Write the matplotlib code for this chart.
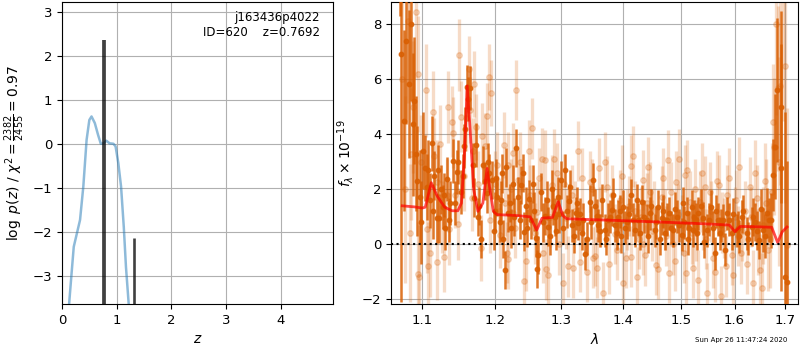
import matplotlib
matplotlib.use("Agg")
from matplotlib import pyplot as plt
from matplotlib.ticker import ScalarFormatter, NullFormatter
import numpy as np

# log p(z) curve
z_grid = [0.10, 0.13, 0.17, 0.215, 0.33, 0.39, 0.45, 0.50, 0.54, 0.60, 0.66, 0.71, 0.76,
          0.81, 0.87, 0.94, 0.98, 1.03, 1.08, 1.13, 1.17, 1.22, 1.26]
logpz = [-4.5, -3.63, -3.01, -2.33, -1.72, -0.96, 0.10, 0.55, 0.63, 0.48, 0.21, 0.01, 0.02,
         0.08, 0.02, 0.01, -0.05, -0.43, -0.96, -1.88, -2.79, -3.63, -4.4]
z_peaks = [0.765, 1.31]
peak_tops = [2.37, -2.13]
peak_widths = [2.7, 1.9]

# binned spectrum, beam A (dark points)
lam_bin = [1.0705, 1.0722, 1.0787, 1.0830, 1.0874, 1.0895, 1.0934, 1.0970, 1.1005, 1.1036,
           1.1080, 1.1105, 1.1125, 1.1160, 1.1192, 1.1227, 1.1255, 1.1281, 1.1310, 1.1335,
           1.1375, 1.1417, 1.1463, 1.1485, 1.1525, 1.1565, 1.1602, 1.1648, 1.1690, 1.1728,
           1.1764, 1.1798, 1.1835, 1.1884, 1.1920, 1.1955, 1.2000, 1.2036, 1.2070, 1.2108,
           1.2148, 1.2196, 1.2231, 1.2260, 1.2309, 1.2343, 1.2383, 1.2432, 1.2477, 1.2507,
           1.2558, 1.2603, 1.2643, 1.2679, 1.2745, 1.2795, 1.2847, 1.2898, 1.2940, 1.2986,
           1.3054, 1.3116, 1.3159, 1.3227, 1.3264, 1.3318, 1.3371, 1.3447, 1.3505, 1.3560,
           1.3620, 1.3695, 1.3750, 1.3806, 1.3860, 1.3915, 1.3960, 1.4000, 1.4060, 1.4129,
           1.4197, 1.4250, 1.4312, 1.4398, 1.4455, 1.4542, 1.4599, 1.4659, 1.4717, 1.4793,
           1.4865, 1.4936, 1.5015, 1.5060, 1.5106, 1.5150, 1.5196, 1.5226, 1.5270, 1.5317,
           1.5398, 1.5472, 1.5547, 1.5627, 1.5680, 1.5721, 1.5784, 1.5860, 1.5944, 1.6039,
           1.6090, 1.6136, 1.6233, 1.6331, 1.6396, 1.6480, 1.6560, 1.6639, 1.6707, 1.6760,
           1.6794, 1.6846, 1.6909, 1.6917, 1.6997, 1.7044]
flux_bin = [11.0, 6.92, 7.39, 5.83, 4.37, 5.22, 2.30, 1.73, 3.40, 2.76,
            2.70, 1.60, 3.67, 2.50, 0.94, 0.94, 2.00, 1.37, 0.60, 2.37,
            1.50, 3.03, 2.62, 2.98, 1.90, 3.57, 5.73, 5.67, 2.90, 3.60,
            1.00, 0.19, 2.88, 1.85, 2.60, 2.34, 1.20, 1.73, 0.80, 2.58,
            -0.93, 1.13, 0.58, 2.18, 3.51, 1.73, 2.16, 0.46, 0.60, 1.64,
            2.20, 0.24, -0.39, 1.91, 1.03, 0.64, 2.00, 1.00, 1.73, 2.34,
            2.70, 1.58, 0.70, 1.13, 0.77, 0.41, -0.35, 1.55, 2.34, 1.03,
            0.50, 0.52, 0.90, 1.25, 0.70, 1.00, 0.30, 1.37, 0.80, 1.79,
            0.52, 0.90, 1.55, 0.88, 1.13, 0.52, 1.37, 0.94, 0.40, 1.13,
            0.52, 1.00, 0.34, 0.80, 1.13, 0.60, 1.37, 0.52, 0.90, 1.13,
            0.94, 0.52, 1.37, -0.33, 0.90, 0.40, 0.88, 1.13, 0.40, 0.52,
            0.30, 1.00, 0.40, 0.64, 0.82, 0.15, 0.52, 1.13, 0.88, 2.52,
            3.55, 5.61, 5.00, 2.79, -1.18, -1.38]
err_bin = [2.7, 9.0, 3.0, 2.7, 2.6, 2.3, 2.0, 1.7, 1.4, 1.2,
           1.1, 1.0, 1.0, 0.9, 0.9, 0.9, 0.9, 0.8, 0.8, 0.8,
           0.8, 0.8, 0.8, 0.8, 0.8, 0.8, 0.8, 0.8, 0.8, 0.8,
           0.7, 0.7, 0.7, 0.7, 0.7, 0.7, 0.7, 0.7, 0.7, 0.7,
           0.7, 0.7, 0.7, 0.7, 0.7, 0.7, 0.7, 0.7, 0.7, 0.7,
           0.7, 0.7, 0.7, 0.7, 0.7, 0.7, 0.7, 0.7, 0.7, 0.7,
           0.6, 0.6, 0.6, 0.6, 0.6, 0.6, 0.6, 0.6, 0.6, 0.6,
           0.6, 0.6, 0.6, 0.6, 0.6, 0.6, 0.6, 0.6, 0.6, 0.6,
           0.6, 0.6, 0.6, 0.6, 0.6, 0.6, 0.6, 0.6, 0.6, 0.6,
           0.6, 0.6, 0.6, 0.6, 0.6, 0.6, 0.6, 0.6, 0.6, 0.6,
           0.6, 0.6, 0.6, 0.6, 0.6, 0.6, 0.6, 0.6, 0.6, 0.6,
           0.6, 0.6, 0.6, 0.7, 0.7, 0.7, 0.8, 0.9, 1.0, 1.3,
           1.9, 2.6, 3.5, 4.5, 6.0, 4.4]

# binned spectrum, beam B (dark points)
lam_bin_b = [1.0760, 1.0850, 1.0915, 1.0990, 1.1060, 1.1145, 1.1210, 1.1295, 1.1355, 1.1440,
             1.1545, 1.1585, 1.1625, 1.1710, 1.1780, 1.1860, 1.1905, 1.1985,
             1.2015, 1.2090, 1.2125, 1.2170, 1.2215, 1.2285, 1.2365, 1.2410, 1.2455, 1.2530,
             1.2580, 1.2625, 1.2710, 1.2770, 1.2820, 1.2870, 1.2920, 1.2965, 1.3020, 1.3085,
             1.3140, 1.3195, 1.3245, 1.3290, 1.3345, 1.3400, 1.3475, 1.3535, 1.3590, 1.3655,
             1.3720, 1.3780, 1.3835, 1.3890, 1.3940, 1.4030, 1.4090, 1.4160, 1.4225, 1.4280,
             1.4350, 1.4420, 1.4480, 1.4570, 1.4630, 1.4690, 1.4750, 1.4830, 1.4900, 1.4975,
             1.5040, 1.5130, 1.5245, 1.5300, 1.5360, 1.5430, 1.5510, 1.5590, 1.5650, 1.5750,
             1.5820, 1.5900, 1.5980, 1.6065, 1.6170, 1.6270, 1.6360, 1.6440, 1.6520, 1.6600,
             1.6670]
flux_bin_b = [4.5, 8.0, 3.3, 0.8, 2.1, 1.2, 2.7, 1.8, 0.9, 1.5,
              2.5, 4.2, 5.3, 1.7, 1.4, 2.3, 3.0, 0.5,
              2.4, 1.6, 0.2, 2.8, 1.5, 1.0, 0.9, 2.6, 1.4, 0.9,
              1.2, -0.9, 0.8, 1.6, 0.3, 1.4, 0.5, 1.1, 0.6, 1.2,
              2.1, 0.3, 1.5, 1.1, 0.9, 0.2, 0.8, 1.4, 0.7, 1.6,
              0.2, 1.0, 1.8, 0.4, 1.2, 0.6, 1.1, 0.9, 1.6, 0.4,
              1.0, 0.3, 1.4, 0.8, 0.2, 1.2, 0.9, 0.6, 1.3, 0.7,
              1.5, 0.2, 1.0, 0.4, 1.4, 0.1, 0.9, 0.6, 1.2, 0.7,
              -0.2, 0.9, 1.1, 0.6, 1.2, 0.2, 1.0, 0.5, 1.3, 0.3,
              0.9]
err_bin_b = [3.3, 2.8, 2.1, 1.5, 1.2, 1.0, 0.9, 0.8, 0.8, 0.8,
             0.8, 0.8, 0.8, 0.7, 0.7, 0.7, 0.7, 0.7,
             0.7, 0.7, 0.7, 0.7, 0.7, 0.7, 0.7, 0.7, 0.7, 0.7,
             0.7, 0.7, 0.7, 0.7, 0.7, 0.7, 0.7, 0.7, 0.6, 0.6,
             0.6, 0.6, 0.6, 0.6, 0.6, 0.6, 0.6, 0.6, 0.6, 0.6,
             0.6, 0.6, 0.6, 0.6, 0.6, 0.6, 0.6, 0.6, 0.6, 0.6,
             0.6, 0.6, 0.6, 0.6, 0.6, 0.6, 0.6, 0.6, 0.6, 0.6,
             0.6, 0.6, 0.6, 0.6, 0.6, 0.6, 0.6, 0.6, 0.6, 0.6,
             0.6, 0.6, 0.6, 0.6, 0.6, 0.6, 0.7, 0.7, 0.7, 0.8,
             0.8]

# individual exposures (light points)
lam_exp = [1.0740, 1.0817, 1.0830, 1.0839, 1.0852, 1.0917, 1.0939, 1.0943, 1.0956, 1.1049,
           1.1058, 1.1100, 1.1138, 1.1192, 1.1200, 1.1236, 1.1294, 1.1330, 1.1362, 1.1395,
           1.1417, 1.1485, 1.1495, 1.1523, 1.1560, 1.1634, 1.1648, 1.1672, 1.1704, 1.1728,
           1.1798, 1.1813, 1.1859, 1.1884, 1.1916, 1.1931, 1.2000, 1.2036, 1.2075, 1.2148,
           1.2190, 1.2196, 1.2260, 1.2269, 1.2309, 1.2343, 1.2428, 1.2507, 1.2543, 1.2619,
           1.2695, 1.2745, 1.2760, 1.2795, 1.2847, 1.2924, 1.3018, 1.3077, 1.3159, 1.3184,
           1.3264, 1.3291, 1.3447, 1.3479, 1.3505, 1.3532, 1.3563, 1.3597, 1.3657, 1.3723,
           1.3860, 1.3950, 1.4000, 1.4060, 1.4124, 1.4138, 1.4200, 1.4260, 1.4329, 1.4339,
           1.4398, 1.4455, 1.4500, 1.4559, 1.4659, 1.4720, 1.4776, 1.4790, 1.4865, 1.4913,
           1.4967, 1.5020, 1.5075, 1.5095, 1.5165, 1.5226, 1.5280, 1.5348, 1.5400, 1.5441,
           1.5483, 1.5560, 1.5627, 1.5708, 1.5734, 1.5800, 1.5860, 1.5944, 1.6000, 1.6060,
           1.6117, 1.6200, 1.6297, 1.6350, 1.6429, 1.6494, 1.6560, 1.6620, 1.6700, 1.6760,
           1.6775, 1.6855, 1.6904, 1.6960, 1.7038]
flux_exp = [6.00, 8.13, 8.90, 0.41, 3.30, 8.44, 6.19, -1.08, -1.20, 5.60,
            0.55, -0.30, 4.80, 2.28, -0.63, 3.65, -0.45, 1.80, 0.55, 4.46,
            4.06, 0.73, 6.88, 4.64, 2.50, 6.36, 4.90, 1.67, 5.83, 4.25,
            -0.14, 3.94, 3.57, 4.65, 6.07, 0.89, 2.20, 2.90, 0.34, 1.50,
            -0.52, 2.90, 3.31, 1.13, 5.61, 2.34, -1.33, 3.41, 4.22, 1.19,
            3.12, 3.06, -0.91, -1.12, 2.16, 2.58, -1.40, 0.94, 1.79, -0.85,
            3.39, -0.63, 2.28, 2.00, -0.48, -0.42, -0.85, 2.76, -1.76, 2.10,
            0.37, 1.60, -1.39, 0.90, 2.86, -0.45, 1.20, 0.20, 2.34, 0.00,
            1.50, 1.91, 0.50, -0.75, 1.73, 0.90, 3.07, -1.03, 0.00, 2.28,
            3.11, 0.70, 2.52, -1.06, 1.55, -0.85, 0.50, 1.55, 0.90, 2.10,
            -1.78, 1.20, -1.00, 2.16, -1.88, 0.60, 1.79, -0.39, 1.00, 0.30,
            -0.33, 1.20, 2.07, -1.40, 1.67, -0.93, 0.70, 1.50, 0.20, 4.46,
            3.55, 5.67, 5.76, 9.00, -0.03]
err_exp = [4.0, 3.0, 3.0, 2.5, 2.4, 2.4, 2.1, 1.9, 1.9, 1.7,
           1.6, 1.6, 1.5, 1.5, 1.4, 1.4, 1.3, 1.3, 1.3, 1.3,
           1.3, 1.3, 1.3, 1.3, 1.3, 1.2, 1.2, 1.2, 1.2, 1.2,
           1.2, 1.2, 1.2, 1.2, 1.2, 1.2, 1.2, 1.2, 1.2, 1.2,
           1.1, 1.2, 1.1, 1.1, 1.1, 1.1, 1.1, 1.1, 1.1, 1.1,
           1.1, 1.1, 1.1, 1.1, 1.1, 1.1, 1.1, 1.1, 1.1, 1.1,
           1.1, 1.1, 1.1, 1.1, 1.1, 1.1, 1.1, 1.1, 1.1, 1.1,
           1.1, 1.1, 1.1, 1.1, 1.1, 1.1, 1.1, 1.1, 1.1, 1.1,
           1.1, 1.1, 1.1, 1.1, 1.1, 1.1, 1.1, 1.1, 1.1, 1.1,
           1.1, 1.1, 1.1, 1.1, 1.1, 1.1, 1.1, 1.1, 1.1, 1.1,
           1.1, 1.1, 1.1, 1.1, 1.1, 1.1, 1.1, 1.1, 1.1, 1.1,
           1.1, 1.1, 1.1, 1.2, 1.2, 1.3, 1.4, 1.6, 1.8, 2.1,
           2.5, 3.0, 3.6, 4.5, 5.0]

# individual exposures, second set (light points)
lam_exp_b = [1.0780, 1.0880, 1.0990, 1.1080, 1.1160, 1.1260, 1.1340, 1.1440, 1.1600, 1.1690,
             1.1760, 1.1950, 1.2055, 1.2130, 1.2180, 1.2240, 1.2300, 1.2370, 1.2460, 1.2520,
             1.2590, 1.2650, 1.2720, 1.2830, 1.2890, 1.2960, 1.3040, 1.3110, 1.3210, 1.3330,
             1.3400, 1.3620, 1.3690, 1.3770, 1.3820, 1.3900, 1.3980, 1.4040, 1.4100, 1.4170,
             1.4240, 1.4300, 1.4370, 1.4430, 1.4520, 1.4600, 1.4680, 1.4745, 1.4820, 1.4890,
             1.4950, 1.5050, 1.5120, 1.5200, 1.5260, 1.5320, 1.5380, 1.5460, 1.5530, 1.5600,
             1.5670, 1.5760, 1.5830, 1.5890, 1.5970, 1.6030, 1.6090, 1.6150, 1.6240, 1.6320,
             1.6400, 1.6460, 1.6530, 1.6590, 1.6650, 1.6730, 1.6820, 1.6880, 1.6990]
flux_exp_b = [2.0, 5.0, 3.0, -0.8, 3.2, 1.0, 5.0, 1.8, 4.6, 3.4,
              2.2, 5.5, 1.2, 3.6, -0.3, 2.0, 0.6, 3.0, -0.6, 1.8,
              0.4, 2.4, -0.3, 1.0, 3.1, 0.0, 2.2, -0.8, 1.2, 2.4,
              -1.0, 1.0, 3.0, -0.7, 1.8, -0.2, 2.5, -0.5, 1.4, 3.2,
              -1.2, 1.0, -0.4, 2.8, 1.2, -0.9, 2.4, 0.3, 1.9, -0.6,
              1.1, -0.3, 2.7, 0.4, 2.0, -1.3, 2.6, 0.2, 1.9, -0.5,
              2.3, 0.8, -0.8, 2.4, -1.1, 1.6, 2.8, 0.5, -0.7, 1.0,
              2.6, 0.1, -1.6, 2.3, -0.2, 1.9, 8.0, 3.0, 6.5]
err_exp_b = [3.4, 2.4, 1.7, 1.6, 1.4, 1.3, 1.3, 1.2, 1.2, 1.2,
             1.2, 1.2, 1.2, 1.2, 1.1, 1.1, 1.1, 1.1, 1.1, 1.1,
             1.1, 1.1, 1.1, 1.1, 1.1, 1.1, 1.1, 1.1, 1.1, 1.1,
             1.1, 1.1, 1.1, 1.1, 1.1, 1.1, 1.1, 1.1, 1.1, 1.1,
             1.1, 1.1, 1.1, 1.1, 1.1, 1.1, 1.1, 1.1, 1.1, 1.1,
             1.1, 1.1, 1.1, 1.1, 1.1, 1.1, 1.1, 1.1, 1.1, 1.1,
             1.1, 1.1, 1.1, 1.1, 1.1, 1.1, 1.1, 1.1, 1.1, 1.1,
             1.2, 1.2, 1.3, 1.4, 1.5, 1.8, 3.3, 3.8, 5.0]

# best-fit model
lam_model = [1.074, 1.090, 1.100, 1.104, 1.112, 1.120, 1.130, 1.140, 1.148, 1.153,
             1.157, 1.161, 1.165, 1.170, 1.176, 1.183, 1.189, 1.193, 1.198, 1.203,
             1.230, 1.252, 1.262, 1.270, 1.286, 1.295, 1.302, 1.308, 1.345, 1.400,
             1.450, 1.500, 1.526, 1.560, 1.590, 1.601, 1.611, 1.640, 1.673, 1.685,
             1.694, 1.704]
flux_model = [1.40, 1.36, 1.32, 1.35, 2.24, 1.75, 1.35, 1.22, 1.22, 1.50,
              3.20, 5.76, 4.20, 2.00, 1.20, 1.50, 2.76, 2.00, 1.20, 1.08,
              1.05, 1.00, 0.52, 0.95, 0.98, 1.55, 1.05, 0.93, 0.90, 0.86,
              0.82, 0.78, 0.76, 0.73, 0.70, 0.46, 0.65, 0.64, 0.62, 0.06,
              0.45, 0.63]

root = "j163436p4022"
obj_id = 620
z_best = 0.7692
chi2, dof = 2382, 2455
stamp = "Sun Apr 26 11:47:24 2020"

orange = "#d95f02"

fig = plt.figure(figsize=(8, 3.5), dpi=100)
ax1 = fig.add_axes([0.0775, 0.1314, 0.339, 0.8629])
ax2 = fig.add_axes([0.489, 0.1314, 0.5085, 0.8629])

# p(z) panel
ax1.plot(z_grid, logpz, color="tab:blue", alpha=0.5, lw=1.8)
for zp, top, w in zip(z_peaks, peak_tops, peak_widths):
    ax1.plot([zp, zp], [-10, top], color="k", alpha=0.75, lw=w, solid_capstyle="butt")
ax1.set_xlim(0, 4.96)
ax1.set_ylim(-3.63, 3.23)
ax1.set_xticks([0, 1, 2, 3, 4])
ax1.set_yticks([-3, -2, -1, 0, 1, 2, 3])
ax1.grid(True)
ax1.set_xlabel(r"$z$", fontsize=10)
ax1.set_ylabel(r"$\log\ p(z)$ / $\chi^2=\frac{%d}{%d}=%.2f$" % (chi2, dof, chi2 / dof), fontsize=10)
ax1.text(0.95, 0.97, "%s\nID=%d    z=%.4f" % (root, obj_id, z_best), transform=ax1.transAxes,
         ha="right", va="top", fontsize=8.5, multialignment="right")
ax1.tick_params(labelsize=9.5)

# spectrum panel
for lam, flux, err in [(lam_exp, flux_exp, err_exp), (lam_exp_b, flux_exp_b, err_exp_b)]:
    ax2.errorbar(lam, flux, yerr=err, fmt="o", color=orange, alpha=0.22,
                 markersize=4, elinewidth=2.4, capsize=0, zorder=2)
for lam, flux, err in [(lam_bin, flux_bin, err_bin), (lam_bin_b, flux_bin_b, err_bin_b)]:
    ax2.errorbar(lam, flux, yerr=err, fmt="o", color=orange, alpha=0.85,
                 markersize=3.2, elinewidth=1.8, capsize=0, zorder=3)
ax2.plot(lam_model, flux_model, color="r", alpha=0.7, lw=2, zorder=4)
ax2.axhline(0, color="k", linestyle=":", lw=1.5, zorder=5)
ax2.set_xscale("log")
ax2.set_xlim(1.0598, 1.7266)
ax2.set_ylim(-2.17, 8.81)
ax2.set_xticks([1.1, 1.2, 1.3, 1.4, 1.5, 1.6, 1.7])
ax2.xaxis.set_major_formatter(ScalarFormatter())
ax2.xaxis.set_minor_formatter(NullFormatter())
ax2.minorticks_off()
ax2.set_yticks([-2, 0, 2, 4, 6, 8])
ax2.grid(True)
ax2.set_xlabel(r"$\lambda$", fontsize=10)
ax2.set_ylabel(r"$f_\lambda\times10^{-19}$", fontsize=10)
ax2.tick_params(labelsize=9.5)

fig.text(0.927, 0.028, stamp, ha="center", va="center", fontsize=5)

fig.savefig("out.png", dpi=100)
